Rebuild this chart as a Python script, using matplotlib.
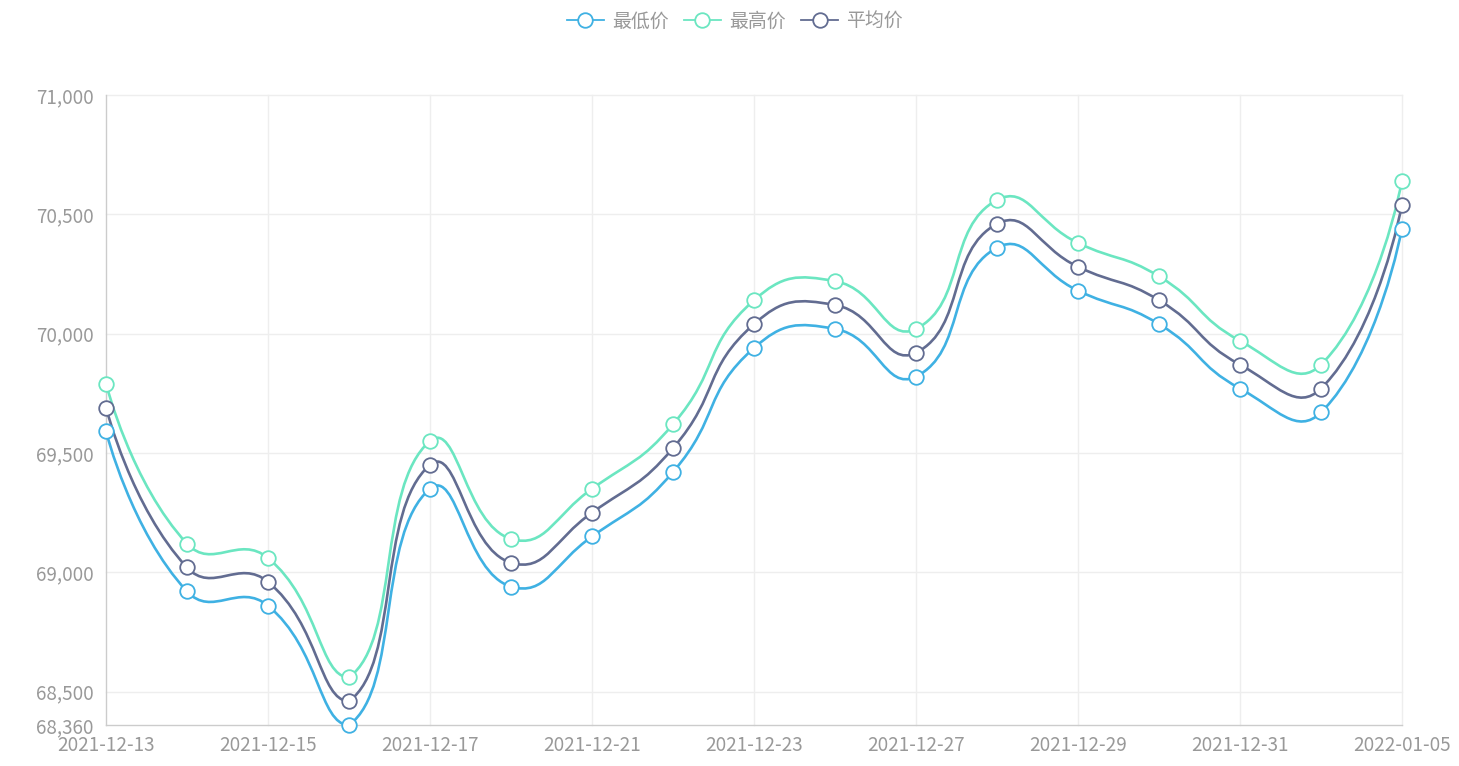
import matplotlib
matplotlib.use('Agg')
import matplotlib.pyplot as plt
import numpy as np
from matplotlib.path import Path
from matplotlib.patches import PathPatch
from matplotlib.lines import Line2D
from matplotlib.ticker import FuncFormatter

plt.rcParams['font.family'] = ['Noto Sans CJK SC', 'DejaVu Sans']

# ── data ──
dates = ['2021-12-13', '2021-12-14', '2021-12-15', '2021-12-16', '2021-12-17',
         '2021-12-20', '2021-12-21', '2021-12-22', '2021-12-23', '2021-12-24',
         '2021-12-27', '2021-12-28', '2021-12-29', '2021-12-30', '2021-12-31',
         '2022-01-04', '2022-01-05']
low_price = [69590, 68920, 68860, 68360, 69350, 68940, 69150, 69420, 69940, 70020,
             69820, 70360, 70180, 70040, 69770, 69670, 70440]
high_price = [69790, 69120, 69060, 68560, 69550, 69140, 69350, 69620, 70140, 70220,
              70020, 70560, 70380, 70240, 69970, 69870, 70640]
avg_price = [69690, 69020, 68960, 68460, 69450, 69040, 69250, 69520, 70040, 70120,
             69920, 70460, 70280, 70140, 69870, 69770, 70540]
series_names = ['最低价', '最高价', '平均价']
y_ticks = [68360, 68500, 69000, 69500, 70000, 70500, 71000]

C_LOW = '#3fb1e3'
C_HIGH = '#6be6c1'
C_AVG = '#626c91'
TXT = '#999999'
GRID = '#eeeeee'
AXIS = '#cccccc'
FS = 13.6

fig = plt.figure(figsize=(14.59, 7.66), dpi=100)
ax = fig.add_axes([106 / 1459, 1 - 725 / 766, (1402 - 106) / 1459, (725 - 95) / 766])
ax.set_xlim(0, len(dates) - 1)
ax.set_ylim(68360, 71000)


def smooth_path(xs, ys, smooth=0.5):
    # echarts-4 style bezier smoothing, done in screen space
    pts = ax.transData.transform(np.column_stack([xs, ys]))
    lo = pts.min(axis=0)
    hi = pts.max(axis=0)
    verts = [pts[0]]
    codes = [Path.MOVETO]
    cp0 = pts[0].copy()
    n = len(pts)
    for i in range(1, n):
        p = pts[i]
        prev = pts[i - 1]
        if i + 1 < n:
            nxt = pts[i + 1]
            v = nxt - prev
            lp = np.hypot(*(p - prev))
            ln = np.hypot(*(p - nxt))
            ratio = ln / (ln + lp)
            ncp = p - v * smooth * (1 - ratio)
        else:
            v = np.zeros(2)
            ratio = 0.5
            ncp = p.copy()
        cp0 = np.clip(cp0, lo, hi)
        ncp = np.clip(ncp, lo, hi)
        verts += [cp0, ncp, p]
        codes += [Path.CURVE4] * 3
        cp0 = p + v * smooth * ratio
    data = ax.transData.inverted().transform(np.array(verts))
    return Path(data, codes)


x = np.arange(len(dates))
handles = []
for vals, col, name in [(low_price, C_LOW, series_names[0]),
                        (high_price, C_HIGH, series_names[1]),
                        (avg_price, C_AVG, series_names[2])]:
    ax.add_patch(PathPatch(smooth_path(x, vals), fill=False, edgecolor=col,
                           lw=1.9, zorder=3, capstyle='round', joinstyle='round'))
    ax.plot(x, vals, 'o', ms=10.5, mfc='white', mec=col, mew=1.3, zorder=4, clip_on=False)
    handles.append(Line2D([], [], color=col, lw=1.3, marker='o', ms=10.5,
                          mfc='white', mec=col, mew=1.3, label=name))

# axes styling
ax.set_yticks(y_ticks)
ax.yaxis.set_major_formatter(FuncFormatter(lambda v, p: f'{int(v):,}'))
ax.set_xticks(x[::2])
ax.set_xticklabels(dates[::2])
ax.tick_params(axis='both', length=0, labelsize=FS, labelcolor=TXT)
ax.tick_params(axis='y', pad=9)
ax.tick_params(axis='x', pad=7.5)

for yv in y_ticks[1:]:
    ax.axhline(yv, color=GRID, lw=1, zorder=1, clip_on=False)
for xv in x[::2][1:]:
    ax.axvline(xv, color=GRID, lw=1, zorder=1, clip_on=False)

for s in ['top', 'right']:
    ax.spines[s].set_visible(False)
for s in ['left', 'bottom']:
    ax.spines[s].set_color(AXIS)
    ax.spines[s].set_linewidth(1)

leg = fig.legend(handles=handles, loc='center', bbox_to_anchor=(735 / 1459, 1 - 21 / 766),
                 ncol=3, frameon=False, fontsize=FS, handlelength=1.95,
                 handletextpad=0.45, columnspacing=0.8, borderaxespad=0)
for t in leg.get_texts():
    t.set_color(TXT)

fig.savefig('out.png', dpi=100)
